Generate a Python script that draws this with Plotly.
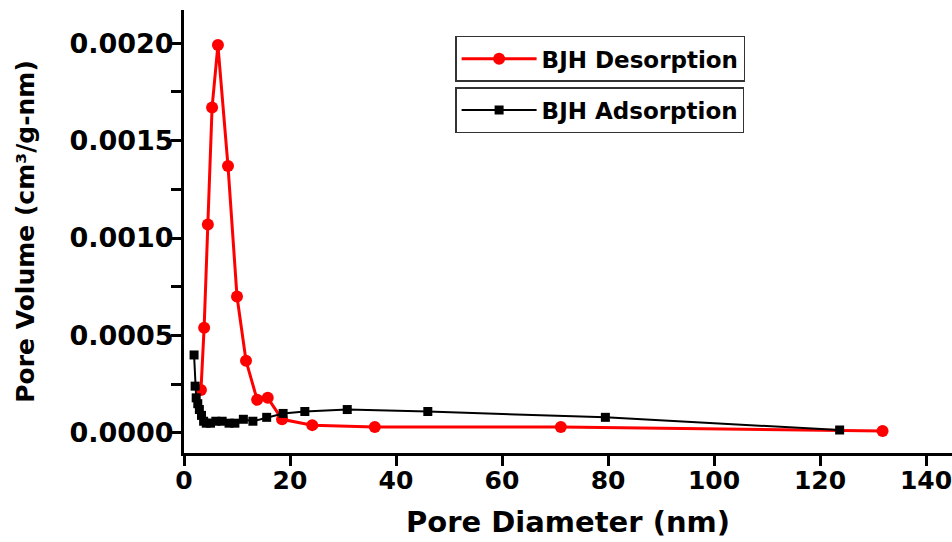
import plotly.graph_objects as go

des_x = [3.2, 3.8, 4.5, 5.3, 6.4, 8.3, 10.0, 11.7, 13.8, 15.8, 18.5, 24.2, 36.0, 71.1, 131.8]
des_y = [0.00022, 0.00054, 0.00107, 0.00167, 0.00199, 0.00137, 0.00070, 0.00037,
         0.00017, 0.00018, 0.00007, 0.00004, 0.00003, 0.00003, 0.00001]

ads_x = [1.9, 2.1, 2.3, 2.6, 2.9, 3.3, 3.7, 4.2, 5.0, 6.0, 7.2, 8.5, 9.6, 11.2,
         13.0, 15.6, 18.7, 22.8, 30.8, 46.0, 79.5, 123.7]
ads_y = [0.00040, 0.00024, 0.00018, 0.00015, 0.00012, 0.00009, 0.00006, 0.00005,
         0.00005, 0.00006, 0.00006, 0.00005, 0.00005, 0.00007, 0.00006, 0.00008,
         0.00010, 0.00011, 0.00012, 0.00011, 0.00008, 0.000015]

x_ticks = [0, 20, 40, 60, 80, 100, 120, 140]
y_ticks = [0.0, 0.0005, 0.0010, 0.0015, 0.0020]

FONT = "DejaVu Sans"

fig = go.Figure()
fig.add_trace(go.Scatter(
    x=des_x, y=des_y, mode="lines+markers", name="BJH Desorption",
    line=dict(color="#ff0000", width=3),
    marker=dict(symbol="circle", size=12, color="#ff0000"),
    legend="legend", showlegend=True))
fig.add_trace(go.Scatter(
    x=ads_x, y=ads_y, mode="lines+markers", name="BJH Adsorption",
    line=dict(color="black", width=2),
    marker=dict(symbol="square", size=9, color="black"),
    legend="legend2", showlegend=True))

axis_common = dict(showline=True, linecolor="black", linewidth=3, ticks="outside",
                   ticklen=10, tickwidth=3, tickcolor="black", showgrid=False,
                   zeroline=False, mirror=False, ticklabeloverflow="allow")

fig.update_xaxes(range=[0, 144.9], tickvals=x_ticks, ticklabelstandoff=-7,
                 tickfont=dict(family=FONT, size=25, color="black", weight="bold"),
                 title=dict(text="Pore Diameter (nm)", standoff=18,
                            font=dict(family=FONT, size=29, color="black", weight="bold")),
                 **axis_common)
fig.update_yaxes(range=[-0.000103, 0.00217], tickvals=y_ticks, tickformat=".4f",
                 ticklabelstandoff=-8,
                 tickfont=dict(family=FONT, size=27, color="black", weight="bold"),
                 minor=dict(dtick=0.00025, tick0=0, ticks="outside", ticklen=10,
                            tickwidth=3, tickcolor="black"),
                 title=dict(text="Pore Volume (cm³/g-nm)", standoff=28,
                            font=dict(family=FONT, size=25, color="black", weight="bold")),
                 **axis_common)

legend_common = dict(bgcolor="white", bordercolor="#333333", borderwidth=1.5,
                     xanchor="left", yanchor="top", itemwidth=75,
                     font=dict(family=FONT, size=23, color="black", weight="bold"))
fig.update_layout(
    width=952, height=542,
    margin=dict(l=184, r=0, t=10, b=89),
    plot_bgcolor="white", paper_bgcolor="white",
    showlegend=True,
    legend=dict(x=0.353, y=0.942, **legend_common),
    legend2=dict(x=0.353, y=0.826, **legend_common),
)

fig.write_html("out.html")
